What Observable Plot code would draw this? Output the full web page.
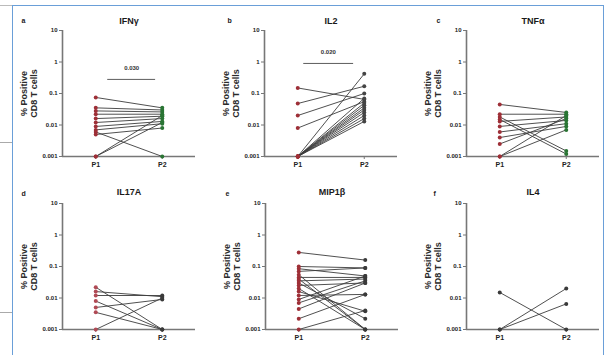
<!DOCTYPE html>
<html><head><meta charset="utf-8">
<script src="https://cdn.jsdelivr.net/npm/d3@7"></script>
<script src="https://cdn.jsdelivr.net/npm/@observablehq/plot@0.6"></script>
<style>
body{margin:0;background:#fff;}
#wrap{position:relative;width:608px;height:355px;overflow:hidden;background:#fff;font-family:"Liberation Sans",Arial,sans-serif;}
.pl{position:absolute;}
</style></head><body>
<div id="wrap"></div>
<script>
const periods = ["P1", "P2"];
const letters = ["a", "b", "c", "d", "e", "f"];
const titles = ["IFNγ", "IL2", "TNFα", "IL17A", "MIP1β", "IL4"];
const yTicks = [0.001, 0.01, 0.1, 1, 10];
const yTickLabels = ["0.001", "0.01", "0.1", "1", "10"];
const yLabelLines = ["% Positive", "CD8 T cells"];

const ifnP1 = [0.075, 0.035, 0.028, 0.022, 0.016, 0.012, 0.009, 0.007, 0.005, 0.001, 0.001, 0.006];
const ifnP2 = [0.035, 0.03, 0.026, 0.022, 0.019, 0.016, 0.013, 0.011, 0.008, 0.02, 0.012, 0.001];
const il2P1 = [0.15, 0.048, 0.02, 0.008, 0.001, 0.001, 0.001, 0.001, 0.001, 0.001, 0.001, 0.001, 0.001, 0.001];
const il2P2 = [0.065, 0.17, 0.1, 0.055, 0.42, 0.07, 0.05, 0.042, 0.035, 0.03, 0.025, 0.02, 0.016, 0.013];
const tnfP1 = [0.045, 0.022, 0.018, 0.013, 0.009, 0.006, 0.004, 0.0025, 0.001, 0.001, 0.015];
const tnfP2 = [0.025, 0.022, 0.0015, 0.018, 0.014, 0.011, 0.009, 0.016, 0.007, 0.02, 0.0012];
const il17P1 = [0.022, 0.016, 0.012, 0.008, 0.005, 0.0035, 0.001];
const il17P2 = [0.001, 0.011, 0.012, 0.001, 0.009, 0.001, 0.01];
const mipP1 = [0.28, 0.1, 0.085, 0.07, 0.055, 0.045, 0.04, 0.035, 0.03, 0.025, 0.02, 0.016, 0.012, 0.009, 0.007, 0.0045, 0.0022, 0.001];
const mipP2 = [0.16, 0.09, 0.05, 0.09, 0.001, 0.045, 0.001, 0.04, 0.0022, 0.03, 0.001, 0.0038, 0.013, 0.05, 0.035, 0.03, 0.013, 0.004];
const il4P1 = [0.015, 0.001, 0.001];
const il4P2 = [0.001, 0.02, 0.0065];

const pValues = {a: "0.030", b: "0.020"};

const series = [
  [ifnP1, ifnP2], [il2P1, il2P2], [tnfP1, tnfP2],
  [il17P1, il17P2], [mipP1, mipP2], [il4P1, il4P2]
];
const p1Colors = ["#9e2f37", "#9e2f37", "#9e2f37", "#b04a55", "#9e2f37", "#3a3a3a"];
const p2Colors = ["#2a7534", "#444", "#2a7534", "#3a3a3a", "#3a3a3a", "#3a3a3a"];

// layout: axis x position and frame top (page coords)
const layout = [
  {ax: 62, top: 30, ldx: -41}, {ax: 264, top: 30, ldx: -37}, {ax: 466, top: 30, ldx: -30},
  {ax: 62, top: 203, ldx: -41}, {ax: 265, top: 203, ldx: -40}, {ax: 466, top: 203, ldx: -33}
];
const ML = 50, MR = 12, MT = 30, MB = 22, FW = 133, FH = 126;

const wrap = document.getElementById("wrap");
const frame = document.createElement("div");
frame.style.cssText = "position:absolute;left:12px;top:5px;width:592px;height:380px;border:1.5px solid #6a9fd8;box-sizing:border-box;";
wrap.appendChild(frame);
for (const [t, w, c] of [[5, 12, "#bbb"], [142, 12, "#aaa"], [312, 12, "#aaa"]]) {
  const l = document.createElement("div");
  l.style.cssText = `position:absolute;left:0;top:${t}px;width:${w}px;height:1px;background:${c};`;
  wrap.appendChild(l);
}

series.forEach(([s1, s2], k) => {
  const rows = [];
  s1.forEach((v, i) => {
    rows.push({subject: i, period: periods[0], value: v});
    rows.push({subject: i, period: periods[1], value: s2[i]});
  });
  const xOf = d => periods.indexOf(d.period) + 1;
  const marks = [
    Plot.axisY({ticks: yTicks, tickFormat: d => yTickLabels[yTicks.indexOf(d)], tickSize: 3, tickPadding: 2,
      label: null, stroke: "#777", fontSize: 6, fontWeight: "bold", fill: "#222"}),
    Plot.axisX({ticks: [1, 2], tickFormat: i => periods[i - 1], tickSize: 3, tickPadding: 3,
      label: null, stroke: "#777", fontSize: 7, fontWeight: "bold", fill: "#222"}),
    Plot.ruleY([0.001], {stroke: "#777", strokeWidth: 1.6}),
    Plot.ruleX([0.5], {stroke: "#777", strokeWidth: 1.6}),
    Plot.line(rows, {x: xOf, y: "value", z: "subject", stroke: "#3c3c3c", strokeWidth: 0.9}),
    Plot.dot(rows, {x: xOf, y: "value", r: 2, stroke: null,
      fill: d => d.period === periods[0] ? p1Colors[k] : p2Colors[k]}),
    Plot.text([titles[k]], {frameAnchor: "top", dy: k < 3 ? -13 : -15, fontSize: 9, fontWeight: "bold", fill: "#1a1a1a"}),
    Plot.text([letters[k]], {frameAnchor: "top-left", dx: layout[k].ldx, dy: -12, fontSize: 7, fontWeight: "bold", fill: "#1a1a1a"}),
    Plot.text([yLabelLines[0]], {frameAnchor: "left", dx: -38.5, rotate: -90, textAnchor: "middle", fontSize: 9, fontWeight: "bold", fill: "#2a2a2a", letterSpacing: "0.9px"}),
    Plot.text([yLabelLines[1]], {frameAnchor: "left", dx: -28, rotate: -90, textAnchor: "middle", fontSize: 9, fontWeight: "bold", fill: "#2a2a2a", letterSpacing: "0.9px"})
  ];
  if (k === 0) {
    marks.push(Plot.ruleY([0.28], {x1: 1.18, x2: 1.9, stroke: "#333", strokeWidth: 0.8}));
    marks.push(Plot.text([pValues.a], {x: 1.54, y: 0.62, fontSize: 6, fontWeight: "bold", fill: "#333"}));
  }
  if (k === 1) {
    marks.push(Plot.ruleY([0.9], {x1: 1.09, x2: 1.84, stroke: "#333", strokeWidth: 0.8}));
    marks.push(Plot.text([pValues.b], {x: 1.46, y: 2.0, fontSize: 6, fontWeight: "bold", fill: "#333"}));
  }
  const chart = Plot.plot({
    width: ML + FW + MR, height: MT + FH + MB,
    marginLeft: ML, marginRight: MR, marginTop: MT, marginBottom: MB,
    x: {domain: [0.5, 2.5]},
    y: {type: "log", domain: [0.001, 10]},
    style: {fontFamily: "Liberation Sans, Arial, sans-serif", background: "transparent", overflow: "visible"},
    marks
  });
  chart.classList.add("pl");
  chart.style.left = (layout[k].ax - ML) + "px";
  chart.style.top = (layout[k].top - MT) + "px";
  wrap.appendChild(chart);
});
</script>
</body></html>
